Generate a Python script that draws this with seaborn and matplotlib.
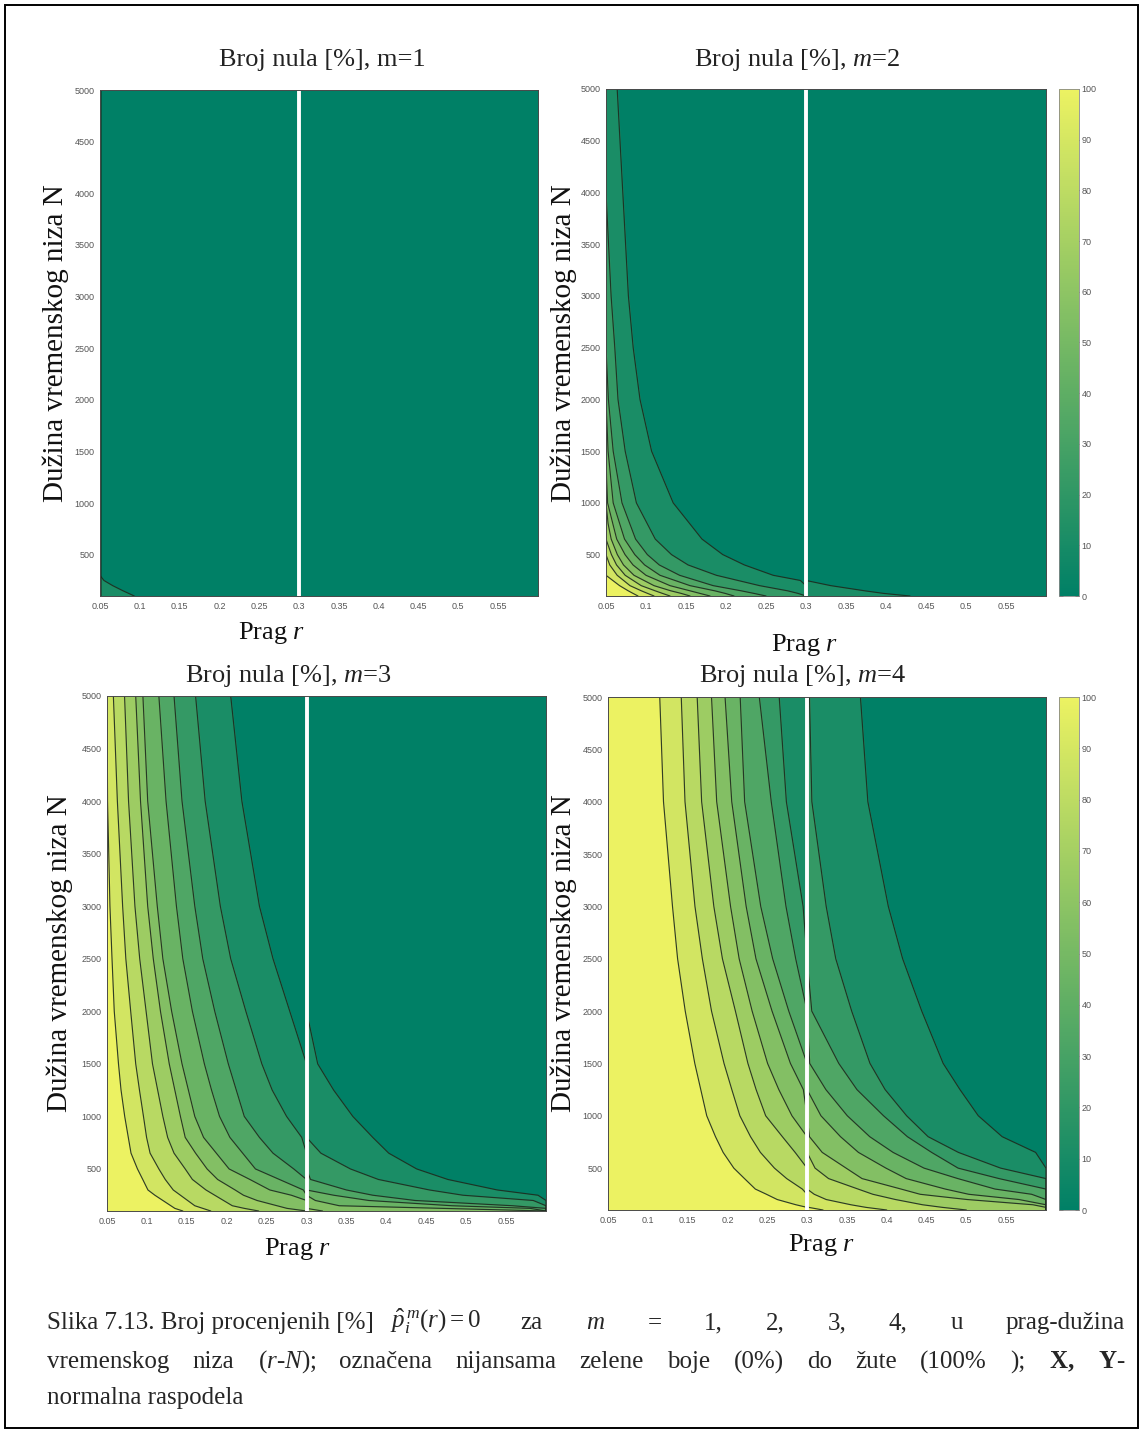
import numpy as np
import matplotlib
matplotlib.use("Agg")
import matplotlib.pyplot as plt
from matplotlib.colors import LinearSegmentedColormap, Normalize
from matplotlib.cm import ScalarMappable
from matplotlib.patches import Rectangle
import seaborn as sns

# ---- data ----
# for every contour level (10 % ... 90 %) the threshold r where the line
# crosses each series length N (0.05 / 0.6 = line lies on the plot edge)
n_s = [100, 125, 150, 200, 250, 300, 400, 500, 650, 800, 1000, 1250, 1500, 2000, 2500, 3000, 4000, 5000]

m1_lines = [
    [.093, .086, .079, .066, .055, .05, .05, .05, .05, .05, .05, .05, .05, .05, .05, .05, .05, .05],
]

m2_lines = [
    [.43, .397, .3735, .331, .293, .259, .223, .196, .17, .1546, .134, .1205, .107, .0925, .084, .078, .071, .064],
    [.30, .29, .277, .242, .215, .188, .1526, .1319, .1116, .1015, .088, .081, .074, .065, .061, .0564, .05, .05],
    [.25, .235, .219, .184, .163, .142, .1166, .1017, .087, .0797, .07, .0645, .059, .053, .05, .05, .05, .05],
    [.21, .199, .186, .155, .1363, .1175, .0983, .086, .0732, .0671, .059, .0558, .0526, .05, .05, .05, .05, .05],
    [.18, .1675, .155, .13, .115, .10, .0838, .0738, .0634, .0585, .052, .0507, .05, .05, .05, .05, .05, .05],
    [.155, .144, .131, .11, .0975, .085, .0719, .0642, .0565, .0526, .05, .05, .05, .05, .05, .05, .05, .05],
    [.13, .1206, .1115, .094, .084, .074, .0632, .0568, .05, .05, .05, .05, .05, .05, .05, .05, .05, .05],
    [.11, .102, .0942, .08, .072, .064, .0547, .05, .05, .05, .05, .05, .05, .05, .05, .05, .05, .05],
    [.09, .0838, .0778, .067, .0585, .05, .05, .05, .05, .05, .05, .05, .05, .05, .05, .05, .05, .05],
]

m3_lines = [
    [.6, .6, .6, .6, .59, .539, .477, .438, .403, .383, .358, .334, .314, .279, .258, .241, .219, .205],
    [.6, .6, .6, .584, .496, .454, .390, .355, .318, .294, .275, .257, .244, .224, .205, .192, .173, .161],
    [.6, .6, .558, .436, .383, .350, .305, .284, .258, .241, .222, .212, .202, .185, .170, .160, .144, .134],
    [.6, .58, .482, .378, .334, .296, .266, .236, .220, .204, .191, .181, .172, .157, .145, .137, .124, .115],
    [.6, .47, .341, .311, .281, .254, .229, .203, .187, .171, .160, .152, .144, .131, .120, .113, .101, .095],
    [.32, .2755, .263, .238, .221, .2105, .1886, .1754, .161, .148, .142, .135, .128, .117, .108, .101, .092, .086],
    [.24, .222, .207, .196, .185, .174, .157, .148, .134, .126, .120, .1135, .107, .099, .091, .085, .077, .072],
    [.18, .17, .160, .151, .142, .133, .123, .115, .104, .0996, .0957, .0907, .086, .0797, .0736, .0696, .063, .058],
    [.145, .135, .130, .120, .110, .1013, .0948, .0882, .0801, .0767, .0722, .0676, .0644, .0591, .0563, .0537, .0507, .05],
]

m4_lines = [
    [.6, .6, .6, .6, .6, .6, .6, .6, .587, .545, .515, .492, .4709, .444, .420, .402, .3763, .367],
    [.30, .30, .30, .30, .30, .30, .30, .30, .30, .30, .30, .30, .30, .30, .30, .295, .274, .265],
    [.6, .6, .6, .6, .6, .6, .541, .4896, .4564, .426, .396, .3626, .3398, .3059, .2857, .2735, .255, .240],
    [.6, .6, .6, .6, .582, .536, .4893, .4468, .408, .3787, .3505, .3236, .3033, .277, .2568, .2418, .2216, .216],
    [.6, .6, .6, .566, .503, .4735, .4244, .399, .3645, .342, .3174, .2953, .2791, .256, .2358, .2235, .2054, .197],
    [.6, .6, .5836, .501, .442, .418, .369, .349, .319, .303, .281, .2645, .2504, .231, .2147, .2039, .1865, .18],
    [.50, .47, .445, .411, .3826, .364, .327, .310, .285, .269, .248, .236, .2257, .21, .1937, .1829, .1676, .162],
    [.40, .374, .355, .324, .309, .294, .2744, .259, .2414, .229, .2156, .2055, .1957, .18, .1685, .1592, .1467, .142],
    [.32, .302, .286, .2625, .249, .235, .2214, .208, .1946, .185, .174, .1665, .159, .147, .1374, .131, .1197, .115],
]
# right of the seam at r = 0.3 the 20 % line of m=4 runs apart from the left one
m4_r20_right = [.6, .6, .6, .6, .6, .6, .6, .543, .49, .452, .425, .398, .379, .356, .336, .324, .306, .303]

r_ticks = [0.05, 0.1, 0.15, 0.2, 0.25, 0.3, 0.35, 0.4, 0.45, 0.5, 0.55]
r_tick_labels = ["0.05", "0.1", "0.15", "0.2", "0.25", "0.3", "0.35", "0.4", "0.45", "0.5", "0.55"]
n_ticks = [500, 1000, 1500, 2000, 2500, 3000, 3500, 4000, 4500, 5000]
n_tick_labels = ["500", "1000", "1500", "2000", "2500", "3000", "3500", "4000", "4500", "5000"]
cb_ticks = [0, 10, 20, 30, 40, 50, 60, 70, 80, 90, 100]

titles = ["Broj nula [%], m=1", "Broj nula [%], $m$=2",
          "Broj nula [%], $m$=3", "Broj nula [%], $m$=4"]

# ---- style ----
sns.set_style("white")
plt.rcParams["font.family"] = ["Liberation Serif", "DejaVu Serif"]
plt.rcParams["mathtext.fontset"] = "custom"
plt.rcParams["mathtext.rm"] = "Liberation Serif"
plt.rcParams["mathtext.it"] = "Liberation Serif:italic"
plt.rcParams["mathtext.bf"] = "Liberation Serif:bold"

W, H = 1141, 1433
fig = plt.figure(figsize=(W / 100, H / 100), dpi=100)
fig.patch.set_facecolor("white")


def rect(x0, x1, y0, y1):
    return [x0 / W, 1 - y1 / H, (x1 - x0) / W, (y1 - y0) / H]


def fxy(x, y):
    return x / W, 1 - y / H


# green -> yellow, a little paler than pure "summer" like the printed page
green_yellow = LinearSegmentedColormap.from_list("scan_summer", ["#008066", "#ecf262"])
band_colors = green_yellow(np.linspace(0, 1, 10))
line_color = "#1c2b1e"
R_MIN, R_SEAM, R_MAX = 0.05, 0.3, 0.6


def draw_field(ax, lines, right_override=None):
    n = np.array(n_s, dtype=float)
    for lo, hi, side in [(R_MIN, R_SEAM, "left"), (R_SEAM, R_MAX, "right")]:
        tracks = [np.array(t, dtype=float) for t in lines]
        if side == "right" and right_override:
            for idx, t in right_override.items():
                tracks[idx] = np.array(t, dtype=float)
        while len(tracks) < 9:
            tracks.append(np.full_like(n, R_MIN))
        tracks = [np.clip(t, lo, hi) for t in tracks]
        # band j holds values between 10*j and 10*(j+1) %
        for j in range(10):
            left = np.full_like(n, lo) if j == 9 else tracks[j]
            right = np.full_like(n, hi) if j == 0 else tracks[j - 1]
            ax.fill_betweenx(n, left, right, facecolor=band_colors[j],
                             edgecolor=band_colors[j], linewidth=0.6, zorder=1)
        for t in tracks:
            ax.plot(t, n, color=line_color, lw=0.85, alpha=0.9, zorder=2,
                    solid_joinstyle="round")


panels = [
    # lines, override, axes px, title xy, xlabel xy, ylabel xy, colorbar px
    (m1_lines, None, (100, 538, 90, 596), (322, 60), (272, 633), (56, 343), None),
    (m2_lines, None, (606, 1046, 89, 596), (797, 60), (805, 645), (564, 343), (1059, 1079, 89, 596)),
    (m3_lines, None, (107, 546, 696, 1211), (288, 676), (298, 1249), (60, 953), None),
    (m4_lines, {1: m4_r20_right}, (608, 1046, 697, 1210), (802, 676), (822, 1245), (564, 953),
     (1059, 1079, 697, 1210)),
]

tick_font = "Liberation Sans"

for (lines, override, box, tpos, xpos, ypos, cbox), title in zip(panels, titles):
    ax = fig.add_axes(rect(*box))
    draw_field(ax, lines, override)
    ax.axvline(R_SEAM, color="white", lw=2.8, zorder=4)
    ax.set_xlim(R_MIN, R_MAX)
    ax.set_ylim(100, 5000)
    ax.set_xticks(r_ticks)
    ax.set_xticklabels(r_tick_labels)
    ax.set_yticks(n_ticks)
    ax.set_yticklabels(n_tick_labels)
    ax.tick_params(direction="in", length=3.5, width=0.6, color="#333333",
                   labelcolor="#555555", labelsize=6.5, top=True, right=True, pad=4)
    for lbl in ax.get_xticklabels() + ax.get_yticklabels():
        lbl.set_family(tick_font)
    for sp in ax.spines.values():
        sp.set_color("#4a4a4a")
        sp.set_linewidth(0.7)
        sp.set_zorder(5)

    fig.text(*fxy(*tpos), title, ha="center", va="center", fontsize=19, color="#222222")
    fig.text(*fxy(*xpos), "Prag $r$", ha="center", va="center", fontsize=19, color="#111111")
    fig.text(*fxy(*ypos), "Dužina vremenskog niza N", ha="center", va="center",
             rotation=90, fontsize=21, color="#111111")

    if cbox is not None:
        cax = fig.add_axes(rect(*cbox))
        cb = fig.colorbar(ScalarMappable(norm=Normalize(0, 100), cmap=green_yellow), cax=cax,
                          ticks=cb_ticks)
        cb.outline.set_edgecolor("#888888")
        cb.outline.set_linewidth(0.6)
        cax.tick_params(direction="in", length=3, width=0.6, color="#333333",
                        labelcolor="#555555", labelsize=6.5, left=True, right=True, pad=2)
        for lbl in cax.get_yticklabels():
            lbl.set_family(tick_font)

# ---- caption ----
cap_size = 18
cap_y = [1323, 1362, 1398]
renderer = fig.canvas.get_renderer()


def width_of(t):
    return t.get_window_extent(renderer).width


def justify(words, x0, x1, y):
    texts = [fig.text(*fxy(x0, y), w, ha="left", va="center", fontsize=cap_size) for w in words]
    widths = [width_of(t) for t in texts]
    gap = (x1 - x0 - sum(widths)) / (len(words) - 1)
    x = x0
    for t, w in zip(texts, widths):
        t.set_position(fxy(x, y))
        x += w + gap


head = fig.text(*fxy(47, cap_y[0]), "Slika 7.13. Broj procenjenih [%]", ha="left", va="center",
                fontsize=cap_size)
x_formula = 47 + width_of(head) + 16
formula = fig.text(*fxy(x_formula, cap_y[0] - 2), r"$\hat{p}_i^{\,m}(r) = 0$", ha="left", va="center",
                   fontsize=cap_size)
x_rest = x_formula + width_of(formula) + 40
justify(["za", "$m$", "=", "1,", "2,", "3,", "4,", "u", "prag-dužina"], x_rest, 1125, cap_y[0])
justify(["vremenskog", "niza", "($r$-$N$);", "označena", "nijansama", "zelene", "boje",
         "(0%)", "do", "žute", "(100%", ");", r"$\mathbf{X,}$", r"$\mathbf{Y}$-"], 47, 1125, cap_y[1])
fig.text(*fxy(47, cap_y[2]), "normalna raspodela", ha="left", va="center", fontsize=cap_size)

# page frame
fig.add_artist(Rectangle((5 / W, 1 - 1428 / H), (1138 - 5) / W, (1428 - 5) / H,
                         transform=fig.transFigure, fill=False, lw=1.4, ec="black"))

fig.savefig("out.png", dpi=100)
